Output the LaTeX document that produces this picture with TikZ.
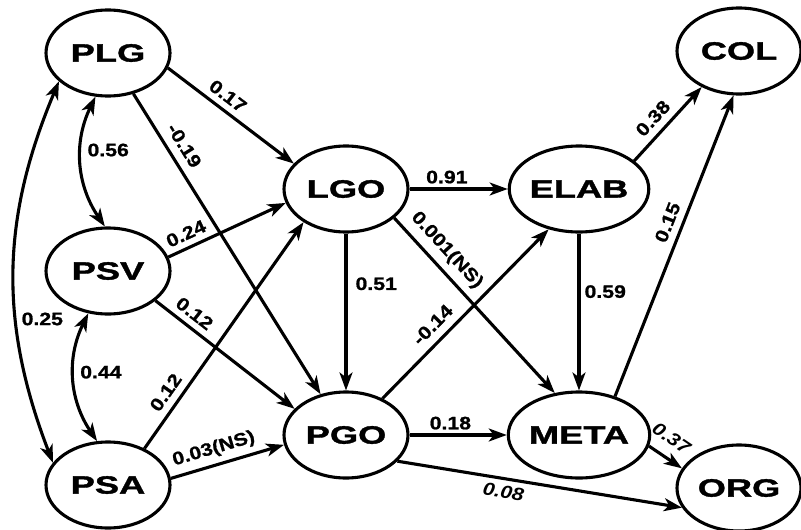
\documentclass[tikz,border=0pt]{standalone}
\usepackage{fontspec}
\newfontfamily\nodefont[FakeStretch=1.45,BoldFeatures={FakeBold=1.5}]{Liberation Sans}
\newfontfamily\labfont[FakeStretch=1.18,BoldFeatures={FakeBold=1}]{Liberation Sans}
\usetikzlibrary{arrows.meta,shapes.geometric}
\begin{document}
\begin{tikzpicture}[x=1pt,y=1pt,
  tip/.tip={Stealth[length=18pt,width=13pt,inset=5pt]},
  var/.style={ellipse, draw, line width=3.1pt, minimum width=124pt, minimum height=86pt, inner sep=0pt,
    font=\nodefont\bfseries\fontsize{25}{25}\selectfont},
  arr/.style={line width=3.1pt, -tip},
  dbl/.style={line width=3.1pt, tip-tip},
  lab/.style={font=\labfont\bfseries\fontsize{18}{18}\selectfont, inner sep=4pt},
  ilab/.style={inner sep=4pt, font=\labfont\bfseries\itshape\fontsize{18}{18}\selectfont}]
\useasboundingbox (0,0) rectangle (801,-530);
\node[var] (PLG) at (108,-53) {PLG};
\node[var] (PSV) at (108,-271) {PSV};
\node[var] (PSA) at (108,-485) {PSA};
\node[var] (LGO) at (346,-189) {LGO};
\node[var] (PGO) at (346,-435) {PGO};
\node[var] (ELAB) at (579,-189) {ELAB};
\node[var] (META) at (579,-435) {META};
\node[var] (COL) at (739,-51) {COL};
\node[var] (ORG) at (739,-488) {ORG};

\draw[arr] (PLG.-14) -- node[lab,sloped,above=2pt,pos=0.41]{0.17} (LGO.154);
\draw[arr] (PLG) -- node[lab,sloped,above=4pt,pos=0.2]{-0.19} (PGO);
\draw[arr] (PSV.13) -- node[lab,sloped,above=2pt,pos=0.2]{0.24} (LGO.193);
\draw[arr] (PSV.-32) -- node[lab,sloped,above=2pt,pos=0.22]{0.12} (PGO.153);
\draw[arr] (PSA.45) -- node[lab,sloped,above=3pt,pos=0.21]{0.12} (LGO.218);
\draw[arr] (PSA.6) -- node[lab,sloped,above=2pt,pos=0.42]{0.03(NS)} (PGO.189);
\draw[dbl] (PLG.254) to[bend right=30] node[lab,pos=0.4,right=1pt]{0.56} (PSV.94);
\draw[dbl] (PSV.245) to[bend right=30] node[lab,pos=0.45,right=1pt]{0.44} (PSA.104);
\draw[dbl] (PLG.210) to[bend right=22] node[lab,pos=0.63,right=0pt]{0.25} (PSA.158);
\draw[arr] (LGO) -- node[lab,above,pos=0.38]{0.91} (ELAB);
\draw[arr] (LGO) -- node[lab,right=4pt,pos=0.32]{0.51} (PGO);
\draw[arr] (LGO.-31) -- node[lab,sloped,above=3pt,pos=0.25]{0.001(NS)} (META.120);
\draw[arr] (PGO.45) -- node[lab,sloped,above=4pt,pos=0.37]{-0.14} (ELAB.233);
\draw[arr] (PGO) -- node[lab,above,pos=0.42]{0.18} (META);
\draw[arr] (PGO.-27) -- node[ilab,sloped,below=1pt,pos=0.38]{0.08} (ORG.199);
\draw[arr] (ELAB) -- node[lab,right,pos=0.37]{0.59} (META);
\draw[arr] (ELAB.27) -- node[lab,sloped,above=3pt,pos=0.44]{0.38} (COL.224);
\draw[arr] (META.47) -- node[lab,sloped,above=3pt,pos=0.56]{0.15} (COL.263);
\draw[arr] (META.-9) -- node[ilab,sloped,above=7pt,pos=0.36]{0.37} (ORG.161);
\end{tikzpicture}
\end{document}
